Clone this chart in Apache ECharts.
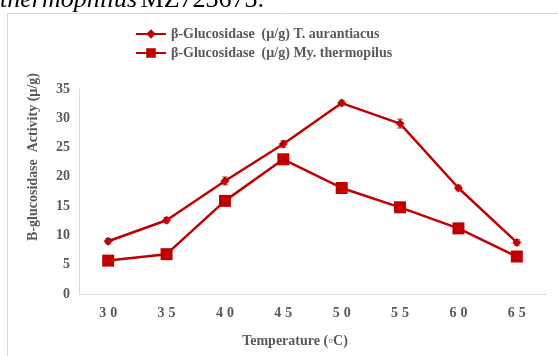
<!DOCTYPE html>
<html>
<head>
<meta charset="utf-8">
<script src="https://cdn.jsdelivr.net/npm/echarts@6/dist/echarts.min.js"></script>
<style>
  html, body { margin: 0; padding: 0; background: #fff; }
  #main { width: 558px; height: 356px; }
</style>
</head>
<body>
<div id="main"></div>
<script>
const TEMPS = ['30', '35', '40', '45', '50', '55', '60', '65'];
const AURANTIACUS = [9.0, 12.6, 19.3, 25.6, 32.6, 29.1, 18.1, 8.8];
const AURANTIACUS_ERR = [0.3, 0.3, 0.5, 0.4, 0.3, 0.6, 0.3, 0.3];
const THERMOPILUS = [5.7, 6.8, 15.9, 23.0, 18.1, 14.8, 11.2, 6.4];
const Y_TICKS = [0, 5, 10, 15, 20, 25, 30, 35];

var chart = echarts.init(document.getElementById('main'), null, { renderer: 'canvas' });
const FONT = 'Liberation Serif';
const GREY = '#595959';
const RED = '#c00000';

// error bar data: [index, low, high]
const errData = AURANTIACUS.map((v, i) => [i, v - AURANTIACUS_ERR[i], v + AURANTIACUS_ERR[i]]);

let option = {
  backgroundColor: '#fff',
  animation: false,
  textStyle: { fontFamily: FONT },
  grid: { left: 79, right: 12, top: 89, bottom: 62 },
  legend: {
    orient: 'vertical',
    left: 130,
    top: 22,
    itemGap: 5,
    itemWidth: 30,
    itemHeight: 12,
    textStyle: { fontFamily: FONT, fontWeight: 'bold', fontSize: 14, color: GREY },
    data: [
      { name: 'β-Glucosidase  (µ/g) T. aurantiacus' },
      { name: 'β-Glucosidase  (µ/g) My. thermopilus' }
    ]
  },
  graphic: [
    {
      type: 'rect',
      shape: { x: 7.5, y: 13.5, width: 560, height: 360 },
      style: { fill: 'none', stroke: '#d9d9d9', lineWidth: 1 },
      silent: true
    },
    {
      type: 'text',
      left: 0,
      top: -13,
      style: {
        text: '{i|thermophilus} {n|MZ723673.}',
        rich: {
          i: { fontFamily: FONT, fontStyle: 'italic', fontSize: 26, fill: '#000' },
          n: { fontFamily: FONT, fontSize: 26, fill: '#000' }
        }
      }
    },
    {
      type: 'text',
      x: 33,
      y: 157,
      rotation: Math.PI / 2,
      style: {
        text: 'B-glucosidase  Activity (µ/g)',
        fontFamily: FONT, fontWeight: 'bold', fontSize: 14, fill: GREY,
        align: 'center', verticalAlign: 'middle'
      }
    },
    {
      type: 'text',
      x: 295,
      y: 341,
      style: {
        text: 'Temperature (◦C)',
        fontFamily: FONT, fontWeight: 'bold', fontSize: 14, fill: GREY,
        align: 'center', verticalAlign: 'middle'
      }
    }
  ],
  xAxis: {
    type: 'category',
    data: TEMPS,
    boundaryGap: true,
    axisLine: { lineStyle: { color: '#d9d9d9', width: 1 } },
    axisTick: { show: false },
    axisLabel: {
      margin: 12,
      fontFamily: FONT, fontWeight: 'bold', fontSize: 14, color: GREY,
      formatter: v => v.split('').join('\u2009\u200a')
    }
  },
  yAxis: {
    type: 'value',
    min: Y_TICKS[0],
    max: Y_TICKS[Y_TICKS.length - 1],
    interval: 5,
    axisLine: { show: true, lineStyle: { color: '#d9d9d9', width: 1 } },
    axisTick: { show: false },
    splitLine: { show: false },
    axisLabel: { margin: 9, fontFamily: FONT, fontWeight: 'bold', fontSize: 14, color: GREY }
  },
  series: [
    {
      type: 'custom',
      data: errData,
      z: 2,
      silent: true,
      renderItem: function (params, api) {
        const lo = api.coord([api.value(0), api.value(1)]);
        const hi = api.coord([api.value(0), api.value(2)]);
        const w = 3;
        const st = { stroke: '#595959', lineWidth: 1 };
        return {
          type: 'group',
          children: [
            { type: 'line', shape: { x1: lo[0], y1: lo[1] + 1, x2: hi[0], y2: hi[1] - 1 }, style: st },
            { type: 'line', shape: { x1: lo[0] - w, y1: lo[1] + 1, x2: lo[0] + w, y2: lo[1] + 1 }, style: st },
            { type: 'line', shape: { x1: hi[0] - w, y1: hi[1] - 1, x2: hi[0] + w, y2: hi[1] - 1 }, style: st }
          ]
        };
      }
    },
    {
      name: 'β-Glucosidase  (µ/g) T. aurantiacus',
      type: 'line',
      data: AURANTIACUS,
      symbol: 'diamond',
      symbolSize: 9,
      lineStyle: { color: RED, width: 2.5 },
      itemStyle: { color: RED },
      z: 3
    },
    {
      name: 'β-Glucosidase  (µ/g) My. thermopilus',
      type: 'line',
      data: THERMOPILUS,
      symbol: 'rect',
      symbolSize: 12,
      lineStyle: { color: RED, width: 2.5 },
      itemStyle: { color: RED },
      z: 3
    }
  ]
};
option && chart.setOption(option);
</script>
</body>
</html>
